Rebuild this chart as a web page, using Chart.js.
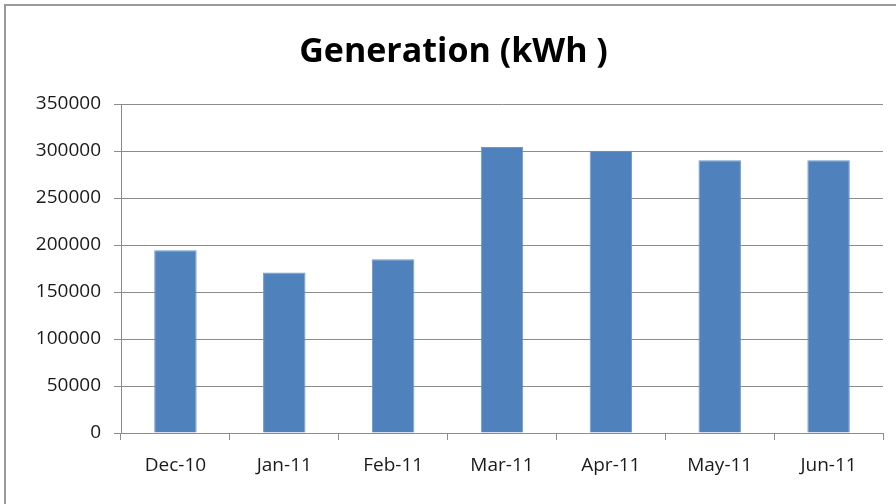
<!DOCTYPE html>
<html>
<head>
<meta charset="utf-8">
<script src="https://cdn.jsdelivr.net/npm/chart.js@4.4.1/dist/chart.umd.min.js"></script>
<style>
  html, body { margin: 0; padding: 0; background: #ffffff; }
  #wrap { position: relative; width: 896px; height: 504px; }
  canvas { display: block; }
</style>
</head>
<body>
<div id="wrap"><canvas id="c" width="896" height="504"></canvas></div>
<script>
const chartTitle = "Generation (kWh )";
const categories = ["Dec-10", "Jan-11", "Feb-11", "Mar-11", "Apr-11", "May-11", "Jun-11"];
const generation = [194500, 170700, 184800, 304200, 300300, 290100, 290100];
const yMin = 0;
const yMax = 350000;
const yStep = 50000;

const frame = {
  id: 'frame',
  afterDraw(chart) {
    const ctx = chart.ctx;
    ctx.save();
    ctx.strokeStyle = '#9a9a9a';
    ctx.lineWidth = 2;
    ctx.beginPath();
    ctx.moveTo(5, 504);
    ctx.lineTo(5, 5);
    ctx.lineTo(896, 5);
    ctx.stroke();
    ctx.restore();
  }
};

new Chart(document.getElementById('c'), {
  type: 'bar',
  data: {
    labels: categories,
    datasets: [{
      label: 'Generation',
      data: generation,
      backgroundColor: '#4f81bd',
      borderColor: '#6f97cb',
      borderWidth: 1,
      barPercentage: 0.39,
      categoryPercentage: 1.0
    }]
  },
  plugins: [frame],
  options: {
    responsive: false,
    animation: false,
    layout: { padding: { left: 24, right: 13, top: 0, bottom: 0 } },
    plugins: {
      legend: { display: false },
      tooltip: { enabled: false },
      title: {
        display: true,
        text: chartTitle,
        color: '#000000',
        font: { family: 'Open Sans', size: 34, weight: 'bold', lineHeight: 1.2 },
        padding: { top: 31.6, bottom: 31.6 }
      }
    },
    scales: {
      x: {
        offset: true,
        grid: { display: true, drawOnChartArea: false, drawTicks: true, tickLength: 7, color: '#8c8c8c', offset: true },
        border: { display: true, color: '#8c8c8c', width: 1 },
        ticks: { color: '#1a1a1a', font: { family: 'Open Sans', size: 19 }, padding: 14, maxRotation: 0 },
        afterFit(scale) { scale.height = 71; }
      },
      y: {
        min: yMin,
        max: yMax,
        ticks: {
          stepSize: yStep,
          color: '#1a1a1a',
          font: { family: 'Open Sans', size: 19 },
          padding: 13,
          callback: (v) => String(v)
        },
        grid: { color: '#8c8c8c', lineWidth: 1, tickLength: 7, drawTicks: true },
        border: { display: true, color: '#8c8c8c', width: 1 },
        afterFit(scale) { scale.width = 97; }
      }
    }
  }
});
</script>
</body>
</html>
